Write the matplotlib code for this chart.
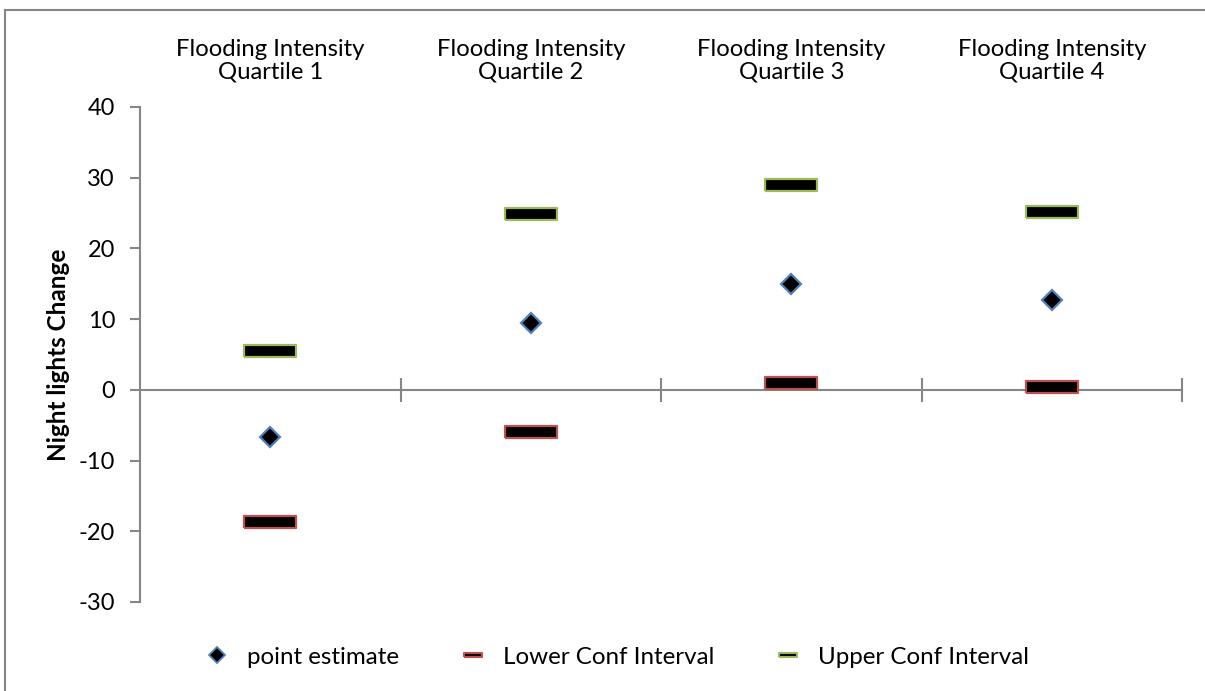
import matplotlib.pyplot as plt
from matplotlib.lines import Line2D
from matplotlib.patches import Rectangle

plt.rcParams['font.family'] = ['Lato', 'DejaVu Sans']
plt.rcParams['axes.unicode_minus'] = False

categories = ['Flooding Intensity\nQuartile 1', 'Flooding Intensity\nQuartile 2',
              'Flooding Intensity\nQuartile 3', 'Flooding Intensity\nQuartile 4']
point_estimate = [-6.6, 9.5, 15.0, 12.7]
lower_ci = [-18.7, -5.9, 1.0, 0.4]
upper_ci = [5.5, 24.8, 29.0, 25.2]
yticks = [-30, -20, -10, 0, 10, 20, 30, 40]

blue = '#4F81BD'
red = '#C0504D'
green = '#9BBB59'
axis_grey = '#868686'

# wide flat bar used for the interval ends
bar = [(-2.2, -0.5), (2.2, -0.5), (2.2, 0.5), (-2.2, 0.5), (-2.2, -0.5)]

fig = plt.figure(figsize=(12.05, 6.91), dpi=100)
ax = fig.add_axes([0.1162, 0.1288, 0.8648, 0.7164])

xs = [i + 0.5 for i in range(len(categories))]
ax.plot(xs, point_estimate, ls='none', marker='D', ms=10.5, mfc='black',
        mec=blue, mew=1.6, zorder=3)
ax.plot(xs, lower_ci, ls='none', marker=bar, ms=37.5, mfc='black',
        mec=red, mew=1.6, zorder=3)
ax.plot(xs, upper_ci, ls='none', marker=bar, ms=37.5, mfc='black',
        mec=green, mew=1.6, zorder=3)

ax.set_xlim(0, len(categories))
ax.set_ylim(-30, 40)
ax.set_yticks(yticks)
ax.tick_params(axis='y', direction='out', length=7, width=1.5, color=axis_grey,
               labelsize=17, pad=11)

# category axis drawn through zero
ax.spines['bottom'].set_position(('data', 0))
ax.spines['bottom'].set_color(axis_grey)
ax.spines['bottom'].set_linewidth(1.5)
ax.spines['left'].set_color(axis_grey)
ax.spines['left'].set_linewidth(1.5)
ax.spines['top'].set_visible(False)
ax.spines['right'].set_visible(False)
ax.set_xticks(range(1, len(categories) + 1))
ax.set_xticklabels([])
ax.tick_params(axis='x', direction='inout', length=17, width=1.5, color=axis_grey)

for x, name in zip(xs, categories):
    ax.text(x, 1.05, name, transform=ax.get_xaxis_transform(), ha='center',
            va='bottom', fontsize=17.2, linespacing=1.05)

ax.set_ylabel('Night lights Change', fontsize=17.5, fontweight='bold', labelpad=6)

handles = [
    Line2D([], [], ls='none', marker='D', ms=8, mfc='black', mec=blue, mew=1.3),
    Line2D([], [], ls='none', marker=bar, ms=13, mfc='black', mec=red, mew=1.5),
    Line2D([], [], ls='none', marker=bar, ms=13, mfc='black', mec=green, mew=1.5),
]
fig.legend(handles, ['point estimate', 'Lower Conf Interval', 'Upper Conf Interval'],
           loc='center', bbox_to_anchor=(0.507, 0.049), ncol=3, frameon=False,
           fontsize=17.4, columnspacing=2.05, handletextpad=0.25, handlelength=2.0)

# outer chart frame
fig.patches.append(Rectangle((0.004, -0.01), 1.1, 0.995, transform=fig.transFigure,
                             fill=False, edgecolor=axis_grey, linewidth=1.5))

fig.savefig('out.png', dpi=100)
